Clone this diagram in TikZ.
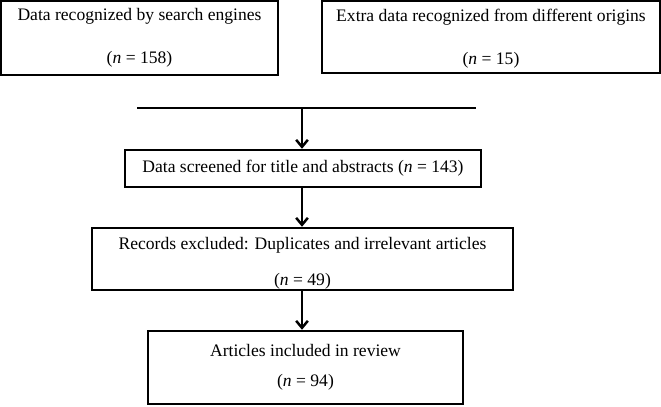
\documentclass[tikz,border=0pt]{standalone}
\usepackage{fontspec}
\setmainfont{Liberation Serif}
\usetikzlibrary{arrows.meta}

\begin{document}
\begin{tikzpicture}[x=0.03cm, y=0.03cm,
    box/.style = {draw=black, line width=2.1pt, align=center, inner sep=0pt,
                  font=\fontsize{15}{18}\selectfont},
    flow/.style = {black, line width=2.1pt, -{Straight Barb[length=6pt,width=10pt]}}]
            \useasboundingbox (0,0) rectangle (661,406);

            \node[box, minimum width=8.31cm, minimum height=2.22cm] (search) at (139.5,368)
                {Data recognized by search engines\\[19pt](\textit{n} = 158)};
            \node[box, minimum width=10.14cm, minimum height=2.16cm] (extra) at (491,369)
                {\mbox{}\\[-5pt]Extra data recognized from different origins\\[18.7pt](\textit{n} = 15)};

            \coordinate (joinL) at (137,298);
            \coordinate (joinR) at (476,298);
            \coordinate (joinM) at (302,298);
            \draw[black, line width=2.1pt] (joinL) -- (joinR);

            \node[box, minimum width=10.68cm, minimum height=1.11cm] (screened) at (303,237.5)
                {Data screened for title and abstracts (\textit{n} = 143)};
            \node[box, minimum width=12.63cm, minimum height=1.86cm] (excluded) at (302.5,147)
                {\mbox{}\\[0pt]Records excluded: Duplicates and irrelevant articles\\[13pt](\textit{n} = 49)};
            \node[box, minimum width=9.45cm, minimum height=2.19cm] (included) at (305.5,38.5)
                {Articles included in review\\[7.6pt](\textit{n} = 94)};

            \draw[flow] (joinM) -- (joinM |- screened.north);
            \draw[flow] (screened.south -| joinM) -- (joinM |- excluded.north);
            \draw[flow] (excluded.south -| joinM) -- (joinM |- included.north);
        \end{tikzpicture}
\end{document}
